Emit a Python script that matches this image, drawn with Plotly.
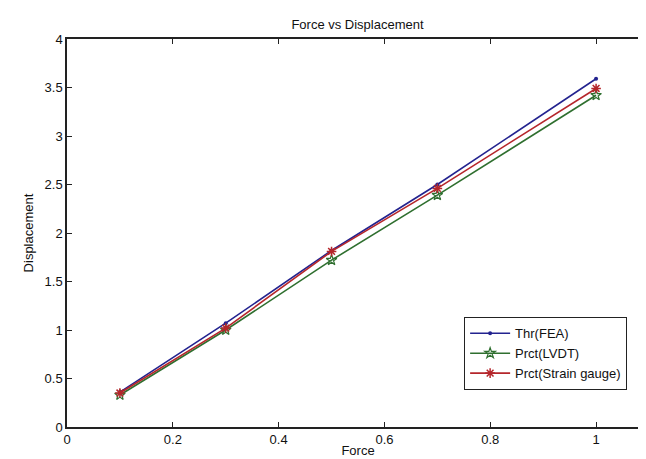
import plotly.graph_objects as go

force = [0.1, 0.3, 0.5, 0.7, 1.0]
thr_fea = [0.36, 1.07, 1.82, 2.50, 3.59]
prct_lvdt = [0.33, 1.00, 1.72, 2.39, 3.42]
prct_sg = [0.35, 1.02, 1.81, 2.46, 3.49]

x_ticks = [0, 0.2, 0.4, 0.6, 0.8, 1]
x_ticktext = ["0", "0.2", "0.4", "0.6", "0.8", "1"]
y_ticks = [0, 0.5, 1, 1.5, 2, 2.5, 3, 3.5, 4]
y_ticktext = ["0", "0.5", "1", "1.5", "2", "2.5", "3", "3.5", "4"]

FONT = "Liberation Sans Narrow, Arial Narrow, Liberation Sans, Arial, sans-serif"

fig = go.Figure()
fig.add_trace(go.Scatter(x=force, y=thr_fea, name="Thr(FEA)", mode="lines+markers",
                         line=dict(color="#23238f", width=1.6),
                         marker=dict(symbol="circle", size=4, color="#23238f")))
fig.add_trace(go.Scatter(x=force, y=prct_lvdt, name="Prct(LVDT)", mode="lines+markers",
                         line=dict(color="#2f6f2f", width=1.6),
                         marker=dict(symbol="star-open", size=8, color="#2f6f2f",
                                     line=dict(width=1.2, color="#2f6f2f"))))
fig.add_trace(go.Scatter(x=force, y=prct_sg, name="Prct(Strain gauge)", mode="lines+markers",
                         line=dict(color="#b5262b", width=1.6),
                         marker=dict(symbol="asterisk-open", size=8, color="#b5262b",
                                     line=dict(width=1.5, color="#b5262b"))))

axis_common = dict(showline=True, linecolor="#222", linewidth=1.5, mirror="ticks",
                   ticks="inside", ticklen=5, tickcolor="#222", showgrid=False,
                   zeroline=False, automargin=False,
                   tickfont=dict(family=FONT, size=13, color="#111"))

fig.update_layout(
    width=646, height=459,
    margin=dict(l=59, r=5, t=31, b=40),
    paper_bgcolor="white", plot_bgcolor="white",
    font=dict(family=FONT, size=13, color="#111"),
    title=dict(text="Force vs Displacement", x=0.541, xanchor="center", y=0.965, yanchor="middle",
               font=dict(family=FONT, size=13, color="#111")),
    xaxis=dict(range=[0, 1.1], tickvals=x_ticks, ticktext=x_ticktext,
               title=dict(text="Force", standoff=0, font=dict(family=FONT, size=13)),
               **axis_common),
    yaxis=dict(range=[0, 4], tickvals=y_ticks, ticktext=y_ticktext,
               title=dict(text="Displacement", standoff=8, font=dict(family=FONT, size=13)),
               **axis_common),
    legend=dict(x=0.682, y=0.095, xanchor="left", yanchor="bottom",
                bgcolor="white", bordercolor="#222", borderwidth=1.2,
                font=dict(family=FONT, size=13, color="#111"),
                tracegroupgap=0, itemwidth=40),
    showlegend=True,
)

fig.write_html("out.html")
